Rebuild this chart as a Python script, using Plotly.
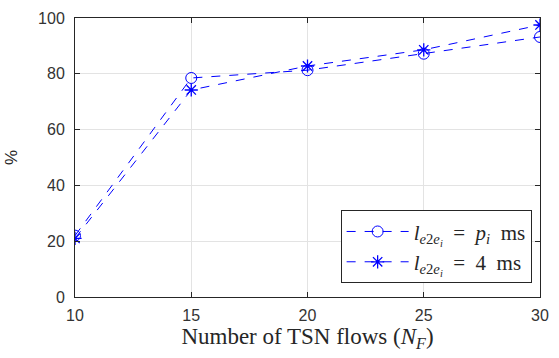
import plotly.graph_objects as go

flows = [10, 15, 20, 25, 30]
pct_pi = [22, 78.5, 81.3, 87.2, 93.2]
pct_4ms = [21, 74.2, 82.8, 88.6, 97.5]
x_ticks = [10, 15, 20, 25, 30]
y_ticks = [0, 20, 40, 60, 80, 100]

name_pi = "<i>l</i><sub><i>e</i>2<i>e<sub>i</sub></i></sub>  =  <i>p<sub>i</sub></i>  ms"
name_4 = "<i>l</i><sub><i>e</i>2<i>e<sub>i</sub></i></sub>  =  4  ms"

blue = "rgb(0,0,255)"
fig = go.Figure()
fig.add_trace(go.Scatter(x=flows, y=pct_pi, name=name_pi, mode="lines+markers",
                         line=dict(color=blue, width=1, dash="dash"),
                         marker=dict(symbol="circle-open", size=11, color=blue, line=dict(width=1))))
fig.add_trace(go.Scatter(x=flows, y=pct_4ms, name=name_4, mode="lines+markers",
                         line=dict(color=blue, width=1, dash="dash"),
                         marker=dict(symbol="asterisk-open", size=11, color=blue, line=dict(width=1.3, color=blue))))

axis_common = dict(showline=True, linecolor="#262626", linewidth=1, mirror="ticks",
                   ticks="inside", ticklen=5, tickcolor="#262626",
                   showgrid=True, gridcolor="#e3e3e3", gridwidth=1, zeroline=False,
                   tickfont=dict(family="Liberation Sans, Arial", size=16, color="#333333"))
fig.update_xaxes(range=[10, 30], tickvals=x_ticks, **axis_common, ticklabelstandoff=4,
                 title=dict(text="Number of TSN flows (<i>N<sub>F</sub></i>)",
                            font=dict(family="Liberation Serif, Times New Roman", size=23, color="#262626"),
                            standoff=2))
fig.update_yaxes(range=[0, 100], tickvals=y_ticks, **axis_common, ticklabelstandoff=6,
                 title=dict(text="%", font=dict(family="Liberation Sans, Arial", size=17, color="#262626"),
                            standoff=16))
fig.update_layout(width=559, height=358, margin=dict(l=73, r=10, t=13, b=61),
                  plot_bgcolor="white", paper_bgcolor="white",
                  legend=dict(x=0.982, y=0.049, xanchor="right", yanchor="bottom",
                              bgcolor="white", bordercolor="#262626", borderwidth=1,
                              font=dict(family="Liberation Serif, Times New Roman", size=21, color="#262626"),
                              itemwidth=62, tracegroupgap=0))
fig.write_html("out.html", config={"displayModeBar": False},
               post_script="document.body.style.margin='0';document.body.style.padding='0';")
